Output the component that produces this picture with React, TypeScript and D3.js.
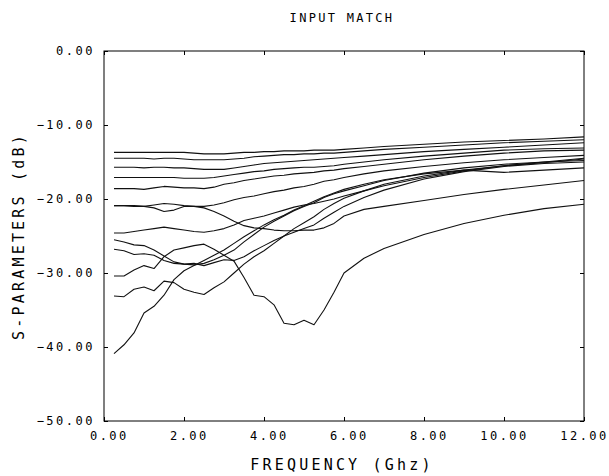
import React, { useEffect, useRef } from 'react'
import * as d3 from 'd3'

// frequency grid (GHz)
const freq = [0.25, 0.5, 0.75, 1.0, 1.25, 1.5, 1.75, 2.0, 2.25, 2.5, 2.75, 3.0, 3.25, 3.5, 3.75, 4.0, 4.25, 4.5, 4.75, 5.0, 5.25, 5.5, 5.75, 6.0, 6.5, 7, 8, 9, 10, 11, 12]

// S11 traces (dB)
const traceA = [-13.7, -13.7, -13.7, -13.7, -13.7, -13.7, -13.7, -13.7, -13.8, -13.9, -13.9, -13.9, -13.8, -13.7, -13.7, -13.6, -13.6, -13.5, -13.5, -13.5, -13.4, -13.4, -13.4, -13.3, -13.1, -12.9, -12.6, -12.3, -12.1, -11.9, -11.6]
const traceB = [-14.5, -14.5, -14.5, -14.5, -14.6, -14.5, -14.5, -14.6, -14.7, -14.7, -14.7, -14.7, -14.6, -14.5, -14.3, -14.2, -14.1, -14.0, -14.0, -13.9, -13.9, -13.8, -13.8, -13.7, -13.5, -13.3, -13.0, -12.7, -12.4, -12.2, -12.0]
const traceC = [-15.7, -15.7, -15.7, -15.8, -15.7, -15.7, -15.8, -15.8, -15.9, -16.0, -16.0, -16.0, -15.8, -15.6, -15.4, -15.2, -15.1, -15.0, -14.9, -14.8, -14.7, -14.6, -14.5, -14.4, -14.2, -14.0, -13.6, -13.3, -13.0, -12.7, -12.4]
const traceD = [-17.1, -17.1, -17.1, -17.1, -17.1, -17.1, -17.1, -17.2, -17.2, -17.2, -17.1, -16.9, -16.7, -16.5, -16.3, -16.2, -16.0, -15.9, -15.8, -15.7, -15.7, -15.6, -15.5, -15.3, -15.0, -14.7, -14.2, -13.8, -13.4, -13.2, -13.1]
const traceE = [-18.6, -18.6, -18.6, -18.7, -18.5, -18.3, -18.4, -18.5, -18.5, -18.6, -18.4, -18.0, -17.8, -17.5, -17.3, -17.1, -16.9, -16.8, -16.6, -16.5, -16.4, -16.2, -16.1, -15.9, -15.6, -15.3, -14.7, -14.2, -13.8, -13.5, -13.4]
const traceF1 = [-20.9, -20.9, -20.9, -21.0, -20.8, -20.6, -20.7, -20.9, -21.0, -21.0, -20.8, -20.5, -20.1, -19.8, -19.6, -19.3, -19.0, -18.8, -18.5, -18.3, -18.0, -17.6, -17.4, -17.1, -16.6, -16.2, -15.6, -15.1, -14.7, -14.4, -14.1]
const traceF2 = [-20.9, -20.9, -21.0, -21.0, -21.2, -21.7, -21.5, -21.0, -21.0, -21.2, -21.7, -22.3, -23.0, -23.6, -23.9, -24.0, -24.2, -24.3, -24.3, -24.2, -24.2, -23.9, -23.3, -22.3, -21.4, -21.0, -20.2, -19.4, -18.7, -18.1, -17.5]
const traceG = [-24.6, -24.6, -24.4, -24.2, -24.0, -23.8, -24.0, -24.2, -24.4, -24.5, -24.3, -24.0, -23.5, -22.9, -22.6, -22.3, -21.9, -21.5, -21.1, -20.8, -20.6, -20.3, -20.0, -19.6, -18.9, -18.2, -17.1, -16.2, -15.5, -15.0, -14.5]
const traceH = [-25.5, -25.8, -26.2, -26.3, -26.9, -27.7, -28.5, -28.8, -28.9, -28.7, -28.2, -27.6, -26.9, -25.8, -24.8, -23.8, -23.0, -22.3, -21.6, -21.0, -20.5, -19.8, -19.3, -18.9, -18.2, -17.5, -16.5, -15.8, -15.3, -15.0, -14.8]
const traceI = [-26.8, -27.0, -27.5, -27.4, -27.6, -28.3, -28.7, -28.8, -28.7, -29.0, -28.6, -28.2, -28.3, -27.8, -27.0, -26.3, -25.6, -25.0, -24.5, -24.0, -23.5, -22.6, -21.8, -21.0, -19.8, -18.8, -17.3, -16.3, -15.6, -15.2, -15.0]
const traceJ = [-30.4, -30.4, -29.6, -29.0, -29.4, -27.8, -26.9, -26.6, -26.3, -26.1, -26.8, -27.6, -28.4, -30.6, -33.0, -33.2, -34.3, -36.8, -37.0, -36.4, -37.0, -35.0, -32.6, -30.0, -28.0, -26.7, -24.8, -23.3, -22.2, -21.3, -20.7]
const traceK = [-33.1, -33.2, -32.2, -31.9, -32.4, -31.1, -31.3, -32.2, -32.6, -32.9, -32.0, -31.2, -30.0, -28.8, -27.8, -27.0, -26.0, -25.0, -24.0, -23.2, -22.4, -21.4, -20.6, -19.9, -18.9, -18.0, -16.9, -16.1, -15.5, -15.1, -14.6]
const traceL = [-40.9, -39.7, -38.1, -35.4, -34.5, -33.0, -30.9, -29.7, -29.0, -28.3, -27.6, -26.9, -26.0, -25.1, -24.3, -23.5, -22.8, -22.2, -21.5, -20.9, -20.3, -19.7, -19.2, -18.7, -18.0, -17.4, -16.6, -16.1, -16.4, -16.1, -15.8]

const traces = [traceA, traceB, traceC, traceD, traceE, traceF1, traceF2, traceG, traceH, traceI, traceJ, traceK, traceL]

const xTicks = [0, 2, 4, 6, 8, 10, 12]
const yTicks = [0, -10, -20, -30, -40, -50]

const title = 'INPUT MATCH'
const xTitle = 'FREQUENCY (Ghz)'
const yTitle = 'S-PARAMETERS (dB)'

const plotFont = '"DejaVu Sans Mono", "Liberation Mono", monospace'

export default function App() {
  const svgRef = useRef(null)

  useEffect(() => {
    const margin = { top: 51, right: 25, bottom: 55, left: 104 }
    const width = 609 - margin.left - margin.right
    const height = 476 - margin.top - margin.bottom

    const root = d3.select(svgRef.current)
    root.selectAll('*').remove()

    const svg = root.append('g')
      .attr('transform', `translate(${margin.left},${margin.top})`)

    const x = d3.scaleLinear().domain([0, 12]).range([0, width])
    const y = d3.scaleLinear().domain([-50, 0]).range([height, 0])

    const fmt = d3.format('.2f')
    const pad = (v) => {
      const s = fmt(v)
      return s.length < 5 ? ' ' + s : s
    }

    // axes, ticks pointing inward
    const bottom = svg.append('g')
      .attr('transform', `translate(0,${height})`)
      .call(d3.axisBottom(x).tickValues(xTicks).tickSize(-4).tickPadding(10).tickFormat(pad))
    const left = svg.append('g')
      .call(d3.axisLeft(y).tickValues(yTicks).tickSize(-4).tickPadding(9).tickFormat(fmt))
    svg.append('g')
      .call(d3.axisTop(x).tickValues(xTicks).tickSize(-4).tickFormat(() => ''))
    svg.append('g')
      .attr('transform', `translate(${width},0)`)
      .call(d3.axisRight(y).tickValues(yTicks).tickSize(-4).tickFormat(() => ''))

    svg.selectAll('.domain').remove()
    svg.selectAll('.tick line').attr('stroke', '#000').attr('stroke-width', 1)

    ;[bottom, left].forEach(g => {
      g.attr('font-family', plotFont).attr('font-size', 12)
      g.selectAll('text')
        .attr('fill', '#000')
        .style('letter-spacing', '2.5px')
        .style('white-space', 'pre')
    })

    svg.append('rect')
      .attr('x', 0).attr('y', 0)
      .attr('width', width).attr('height', height)
      .attr('fill', 'none')
      .attr('stroke', '#000')
      .attr('stroke-width', 1)

    const line = d3.line()
      .x((d, i) => x(freq[i]))
      .y(d => y(d))

    svg.append('g')
      .selectAll('path')
      .data(traces)
      .enter()
      .append('path')
      .attr('d', d => line(d))
      .attr('fill', 'none')
      .attr('stroke', '#111')
      .attr('stroke-width', 1.1)
      .attr('stroke-linejoin', 'round')

    root.append('text')
      .attr('x', 342).attr('y', 22)
      .attr('text-anchor', 'middle')
      .attr('font-family', plotFont)
      .attr('font-size', 12)
      .style('letter-spacing', '2.3px')
      .text(title)

    root.append('text')
      .attr('x', 342).attr('y', 470)
      .attr('text-anchor', 'middle')
      .attr('font-family', plotFont)
      .attr('font-size', 15)
      .style('letter-spacing', '3.2px')
      .text(xTitle)

    root.append('text')
      .attr('transform', 'translate(24,236) rotate(-90)')
      .attr('text-anchor', 'middle')
      .attr('font-family', plotFont)
      .attr('font-size', 15)
      .style('letter-spacing', '3.2px')
      .text(yTitle)
  }, [])

  return (
    <svg ref={svgRef} width={609} height={476}
      style={{ position: 'absolute', left: 0, top: 0, background: '#fff' }}></svg>
  )
}
